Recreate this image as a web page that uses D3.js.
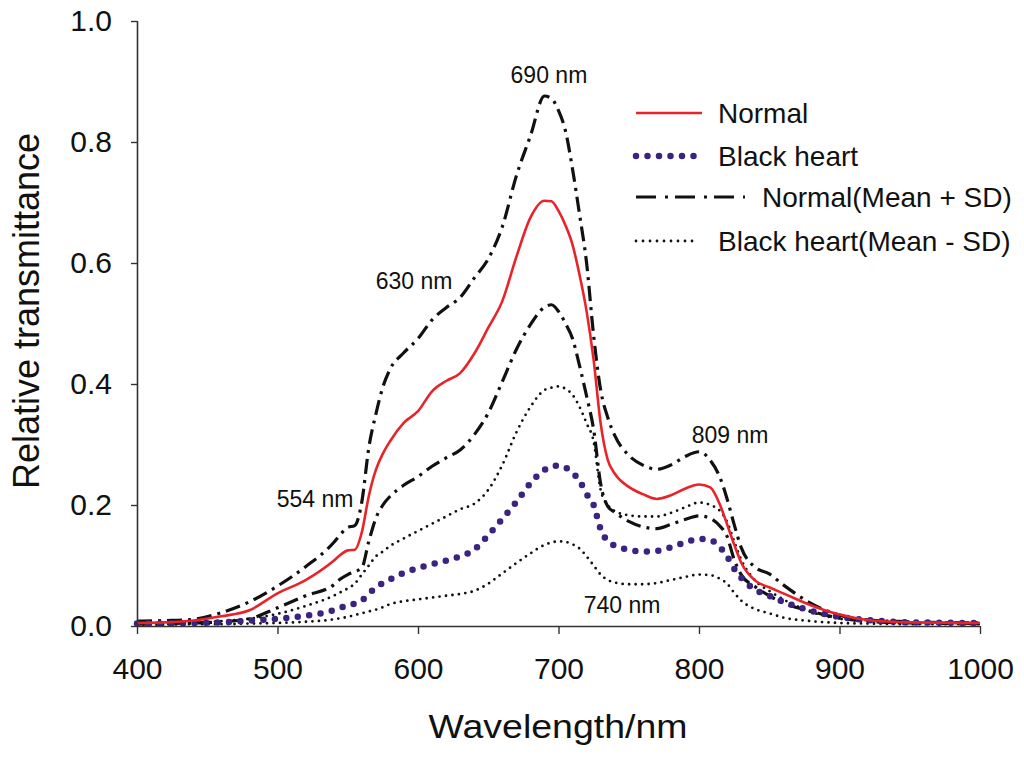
<!DOCTYPE html>
<html>
<head>
<meta charset="utf-8">
<script src="https://cdn.jsdelivr.net/npm/d3@7"></script>
<style>
  html, body { margin: 0; padding: 0; background: #fff; }
  svg { display: block; font-family: "Liberation Sans", Arial, sans-serif; }
</style>
</head>
<body>
<svg id="chart" width="1024" height="760"></svg>
<script>
// ---------- DATA ----------
const wavelengths = [400,420,440,460,480,500,520,540,545,550,555,560,565,570,575,580,590,600,610,620,630,640,650,660,670,680,690,695,700,705,710,715,720,725,730,735,740,750,760,770,780,790,800,808,815,820,825,830,840,850,860,880,900,920,950,1000];

const normalMean = [0.005,0.006,0.009,0.016,0.026,0.054,0.076,0.108,0.118,0.125,0.126,0.155,0.215,0.258,0.285,0.305,0.336,0.355,0.388,0.405,0.418,0.450,0.493,0.537,0.610,0.675,0.703,0.702,0.686,0.662,0.630,0.580,0.520,0.440,0.335,0.275,0.252,0.230,0.218,0.210,0.216,0.227,0.234,0.229,0.200,0.168,0.135,0.105,0.075,0.064,0.054,0.034,0.019,0.010,0.006,0.005];

const normalUpper = [0.008,0.009,0.011,0.022,0.040,0.066,0.098,0.138,0.152,0.163,0.166,0.205,0.295,0.350,0.395,0.424,0.452,0.475,0.506,0.526,0.543,0.575,0.607,0.660,0.744,0.810,0.876,0.872,0.852,0.818,0.755,0.680,0.600,0.480,0.390,0.345,0.315,0.282,0.266,0.259,0.266,0.280,0.288,0.274,0.245,0.210,0.168,0.130,0.097,0.086,0.068,0.037,0.018,0.010,0.007,0.005];

const normalLower = [0.003,0.004,0.005,0.007,0.012,0.030,0.050,0.068,0.078,0.085,0.090,0.096,0.140,0.178,0.200,0.214,0.233,0.247,0.264,0.278,0.291,0.316,0.352,0.404,0.457,0.498,0.527,0.531,0.520,0.500,0.475,0.430,0.380,0.325,0.235,0.198,0.188,0.173,0.164,0.161,0.168,0.176,0.182,0.178,0.165,0.148,0.110,0.085,0.065,0.050,0.038,0.024,0.013,0.008,0.005,0.004];

const blackMean = [0.004,0.004,0.005,0.006,0.009,0.012,0.017,0.026,0.030,0.035,0.037,0.042,0.053,0.064,0.071,0.077,0.088,0.096,0.102,0.108,0.115,0.126,0.150,0.177,0.205,0.236,0.258,0.264,0.265,0.262,0.253,0.240,0.218,0.200,0.160,0.140,0.133,0.126,0.123,0.124,0.130,0.138,0.144,0.142,0.130,0.115,0.095,0.080,0.060,0.050,0.040,0.025,0.015,0.010,0.006,0.005];

const blackUpper = [0.004,0.005,0.006,0.008,0.012,0.020,0.033,0.050,0.056,0.062,0.070,0.085,0.100,0.115,0.123,0.132,0.145,0.157,0.169,0.181,0.193,0.202,0.225,0.266,0.320,0.362,0.390,0.394,0.396,0.392,0.382,0.362,0.335,0.305,0.225,0.200,0.190,0.183,0.181,0.181,0.187,0.196,0.204,0.200,0.190,0.172,0.140,0.110,0.075,0.058,0.044,0.023,0.012,0.008,0.005,0.004];

const blackLower = [0.002,0.002,0.003,0.003,0.004,0.005,0.007,0.011,0.013,0.015,0.018,0.021,0.024,0.027,0.031,0.036,0.041,0.044,0.047,0.050,0.053,0.058,0.070,0.087,0.104,0.120,0.134,0.138,0.140,0.139,0.135,0.128,0.115,0.100,0.085,0.076,0.072,0.069,0.069,0.071,0.076,0.081,0.085,0.084,0.078,0.070,0.055,0.042,0.028,0.021,0.014,0.008,0.005,0.004,0.003,0.003];

const xTicks = [400,500,600,700,800,900,1000];
const yTicks = [0.0,0.2,0.4,0.6,0.8,1.0];

const legendLabels = ["Normal","Black heart","Normal(Mean + SD)","Black heart(Mean - SD)"];

const peakLabels = ["554 nm","630 nm","690 nm","809 nm","740 nm"];
const peakLabelX = [526.7,597.2,693.2,822.1,745.2];
const peakLabelY = [0.197,0.557,0.8975,0.3025,0.0215];

// ---------- STYLES ----------
const styles = {
  red:      {stroke:"#e8242a", width:2.6, dash:null, cap:"butt"},
  purple:   {stroke:"#3b2382", width:6.5, dash:"0 11.5", cap:"round"},
  dashdot:  {stroke:"#111", width:3.2, dash:"15 6 3 6", cap:"butt"},
  dotted:   {stroke:"#111", width:2.8, dash:"0 6.5", cap:"round"}
};

// ---------- CHART ----------
const svg = d3.select("#chart");
const x = d3.scaleLinear().domain([400,1000]).range([137,980]);
const y = d3.scaleLinear().domain([0,1]).range([626,21]);

const series = [
  {vals: blackLower, st: styles.dotted},
  {vals: blackUpper, st: styles.dotted},
  {vals: normalLower, st: styles.dashdot},
  {vals: normalUpper, st: styles.dashdot},
  {vals: blackMean, st: styles.purple},
  {vals: normalMean, st: styles.red}
];

const line = d3.line()
  .x(d => x(d[0]))
  .y(d => y(d[1]))
  .curve(d3.curveMonotoneX);

series.forEach(s => {
  const pts = wavelengths.map((w,i) => [w, s.vals[i]]);
  svg.append("path")
    .datum(pts)
    .attr("d", line)
    .attr("fill","none")
    .attr("stroke", s.st.stroke)
    .attr("stroke-width", s.st.width)
    .attr("stroke-dasharray", s.st.dash)
    .attr("stroke-linecap", s.st.cap)
    .attr("stroke-linejoin","round");
});

// Axes
const xAxis = d3.axisBottom(x).tickValues(xTicks).tickSize(8).tickPadding(24).tickFormat(d3.format("d"));
const yAxis = d3.axisLeft(y).tickValues(yTicks).tickSize(6).tickPadding(19).tickFormat(d3.format(".1f"));

const gx = svg.append("g").attr("transform","translate(0,626)").call(xAxis);
const gy = svg.append("g").attr("transform","translate(137,0)").call(yAxis);
[gx, gy].forEach(g => {
  g.select(".domain").attr("stroke","#333").attr("stroke-width",1.6);
  g.selectAll(".tick line").attr("stroke","#333").attr("stroke-width",1.4);
  g.selectAll(".tick text").attr("fill","#111").style("font-size","30px")
    .style("font-family",'"Liberation Sans", Arial, sans-serif');
});
gx.select(".domain").attr("d","M137,0.5H980");
gy.select(".domain").attr("d","M0.5,626V21");

// Axis titles
svg.append("text")
  .attr("x", 558).attr("y", 738)
  .attr("text-anchor","middle")
  .attr("textLength", 259).attr("lengthAdjust","spacingAndGlyphs")
  .style("font-size","33px").attr("fill","#111")
  .text("Wavelength/nm");

svg.append("text")
  .attr("transform","translate(39,311) rotate(-90)")
  .attr("text-anchor","middle")
  .style("font-size","36px").attr("fill","#111")
  .text("Relative transmittance");

// Peak annotations
peakLabels.forEach((t,i) => {
  svg.append("text")
    .attr("x", x(peakLabelX[i])).attr("y", y(peakLabelY[i]))
    .attr("text-anchor","middle")
    .style("font-size","23px").attr("fill","#111")
    .text(t);
});

// Legend
const legendStyles = [styles.red, styles.purple,
  {stroke:"#111", width:3.2, dash:"20 9 3 7", cap:"butt"},
  {stroke:"#111", width:2.8, dash:"0 7", cap:"round"}];
const legendLineEnd = [702, 699, 745, 698];
const legendTextX = [718, 718, 762, 718];
const legendRowY = [113, 156, 197, 241];

legendLabels.forEach((lab,i) => {
  const st = legendStyles[i];
  svg.append("line")
    .attr("x1", 636).attr("x2", legendLineEnd[i])
    .attr("y1", legendRowY[i]).attr("y2", legendRowY[i])
    .attr("stroke", st.stroke).attr("stroke-width", st.width)
    .attr("stroke-dasharray", st.dash).attr("stroke-linecap", st.cap);
  svg.append("text")
    .attr("x", legendTextX[i]).attr("y", legendRowY[i] + 10)
    .style("font-size","28px").attr("fill","#111")
    .text(lab);
});
</script>
</body>
</html>
